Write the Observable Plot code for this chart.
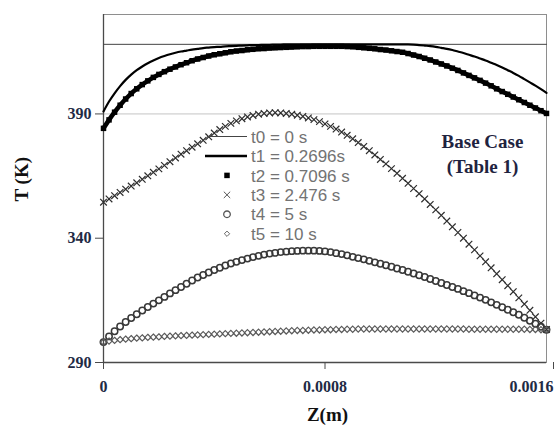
<!DOCTYPE html>
<html>
<head>
<meta charset="utf-8">
<script src="https://cdn.jsdelivr.net/npm/d3@7"></script>
<script src="https://cdn.jsdelivr.net/npm/@observablehq/plot@0.6"></script>
<style>
  html, body { margin: 0; padding: 0; background: #fff; }
  svg text.serif-label { font-family: "Liberation Serif", "Tinos", "DejaVu Serif", "Noto Serif", serif; }
</style>
</head>
<body>
<div id="chart"></div>
<script>
// Axial position of each grid node, in micrometres
const zMicrons = [
  0, 20, 40, 60, 80, 100, 120, 140, 160, 180, 200, 220, 240, 260, 280, 300, 320, 340, 360, 380,
  400, 420, 440, 460, 480, 500, 520, 540, 560, 580, 600, 620, 640, 660, 680, 700, 720, 740, 760, 780,
  800, 820, 840, 860, 880, 900, 920, 940, 960, 980, 1000, 1020, 1040, 1060, 1080, 1100, 1120, 1140, 1160, 1180,
  1200, 1220, 1240, 1260, 1280, 1300, 1320, 1340, 1360, 1380, 1400, 1420, 1440, 1460, 1480, 1500, 1520, 1540, 1560, 1580,
  1600
];

// Initial profile (t0 = 0 s), uniform
const zInitial = [0, 1600];
const tempT0 = [418, 418];

// Temperature profiles (K) at each node
const tempT1 = [
  391.0, 395.0, 398.3, 401.2, 403.7, 405.8, 407.6, 409.1, 410.4, 411.5, 412.5, 413.3, 414.0, 414.6, 415.1, 415.5, 415.9, 416.2, 416.5, 416.7,
  416.9, 417.0, 417.2, 417.3, 417.4, 417.5, 417.6, 417.7, 417.7, 417.8, 417.8, 417.9, 417.9, 418.0, 418.0, 418.0, 418.0, 418.0, 418.0, 418.0,
  418.0, 418.0, 418.0, 418.0, 418.0, 418.0, 418.0, 418.0, 418.0, 418.0, 418.0, 418.0, 418.0, 418.0, 418.0, 418.0, 417.9, 417.7, 417.5, 417.3,
  417.0, 416.6, 416.2, 415.7, 415.1, 414.5, 413.8, 413.1, 412.3, 411.5, 410.6, 409.7, 408.7, 407.6, 406.5, 405.3, 404.0, 402.7, 401.4, 400.0,
  398.5
];
const tempT2 = [
  384.2, 387.6, 390.7, 393.5, 396.0, 398.2, 400.1, 401.8, 403.3, 404.7, 405.9, 407.0, 408.0, 408.9, 409.8, 410.6, 411.4, 412.1, 412.7, 413.3,
  413.8, 414.2, 414.6, 415.0, 415.3, 415.5, 415.8, 416.0, 416.2, 416.3, 416.5, 416.6, 416.7, 416.8, 416.9, 417.0, 417.1, 417.1, 417.2, 417.2,
  417.2, 417.2, 417.2, 417.2, 417.1, 417.0, 416.8, 416.6, 416.4, 416.2, 415.9, 415.7, 415.4, 415.1, 414.8, 414.3, 413.7, 413.1, 412.4, 411.7,
  410.9, 410.1, 409.3, 408.4, 407.5, 406.5, 405.5, 404.5, 403.5, 402.4, 401.3, 400.1, 399.0, 397.9, 396.8, 395.7, 394.6, 393.5, 392.4, 391.3,
  390.2
];
const tempT3 = [
  354.5, 355.8, 357.1, 358.4, 359.7, 361.0, 362.3, 363.7, 365.1, 366.5, 367.9, 369.3, 370.8, 372.3, 373.8, 375.2, 376.6, 378.0, 379.4, 380.8,
  382.3, 383.7, 385.0, 386.2, 387.2, 388.1, 388.8, 389.4, 389.9, 390.2, 390.4, 390.5, 390.4, 390.2, 389.9, 389.5, 389.0, 388.4, 387.7, 386.9,
  386.0, 385.0, 383.9, 382.7, 381.4, 380.0, 378.5, 376.9, 375.2, 373.5, 371.7, 369.9, 368.0, 366.1, 364.1, 362.1, 360.0, 357.9, 355.8, 353.6,
  351.4, 349.2, 346.9, 344.6, 342.3, 340.0, 337.6, 335.3, 332.9, 330.5, 328.1, 325.7, 323.3, 320.9, 318.5, 316.0, 313.5, 311.0, 308.4, 305.8,
  303.3
];
const tempT4 = [
  298.2, 300.5, 302.6, 304.5, 306.3, 307.9, 309.4, 310.9, 312.3, 313.7, 315.0, 316.4, 317.8, 319.1, 320.4, 321.7, 323.0, 324.2, 325.2, 326.2,
  327.2, 328.1, 329.0, 329.8, 330.5, 331.2, 331.8, 332.4, 332.9, 333.4, 333.8, 334.1, 334.4, 334.6, 334.8, 334.9, 335.0, 335.0, 335.0, 334.9,
  334.7, 334.4, 334.0, 333.6, 333.1, 332.5, 332.0, 331.5, 330.9, 330.3, 329.7, 329.1, 328.5, 327.8, 327.2, 326.5, 325.8, 325.1, 324.4, 323.6,
  322.8, 322.0, 321.2, 320.4, 319.6, 318.7, 317.9, 317.0, 316.1, 315.2, 314.2, 313.2, 312.2, 311.2, 310.2, 309.2, 308.0, 306.8, 305.6, 304.4,
  303.2
];
const tempT5 = [
  298.2, 298.6, 298.9, 299.2, 299.4, 299.6, 299.8, 299.9, 300.1, 300.2, 300.3, 300.5, 300.6, 300.7, 300.8, 300.9, 301.0, 301.1, 301.2, 301.3,
  301.4, 301.5, 301.6, 301.7, 301.8, 301.9, 302.0, 302.1, 302.2, 302.3, 302.4, 302.5, 302.6, 302.7, 302.8, 302.9, 302.9, 303.0, 303.1, 303.1,
  303.2, 303.2, 303.3, 303.3, 303.4, 303.4, 303.5, 303.5, 303.5, 303.5, 303.5, 303.5, 303.5, 303.5, 303.5, 303.5, 303.5, 303.5, 303.5, 303.5,
  303.5, 303.5, 303.5, 303.5, 303.5, 303.5, 303.4, 303.4, 303.4, 303.4, 303.4, 303.4, 303.4, 303.4, 303.4, 303.4, 303.4, 303.3, 303.3, 303.2,
  303.2
];

// Legend entries, in drawing order
const seriesLabels = ["t0 = 0 s", "t1 = 0.2696s", "t2 = 0.7096 s", "t3 = 2.476 s", "t4 = 5 s", "t5 = 10 s"];

// Axis ticks
const xTicks = [0, 0.0008, 0.0016];
const yTicks = [290, 340, 390];
const gridY = [390];

const toRows = (zs, ts) => zs.map((u, i) => ({z: u * 1e-6, T: ts[i]}));
const rows0 = toRows(zInitial, tempT0);
const rows1 = toRows(zMicrons, tempT1);
const rows2 = toRows(zMicrons, tempT2);
const rows3 = toRows(zMicrons, tempT3);
const rows4 = toRows(zMicrons, tempT4);
const rows5 = toRows(zMicrons, tempT5);

const axisInk = "#222a44";
const fmt = d => d === 0 ? "0" : d.toFixed(4);
const serifText = {fontWeight: "bold"};

const chart = Plot.plot({
  width: 555,
  height: 427,
  marginLeft: 103,
  marginRight: 9,
  marginTop: 14,
  marginBottom: 65,
  x: {domain: [0, 0.0016]},
  y: {domain: [290, 430]},
  style: "font-weight: bold; font-size: 16px; background: #fff; overflow: visible;",
  marks: [
    Plot.ruleY(gridY, {stroke: "#c4c4c4", strokeWidth: 1}),
    Plot.frame({stroke: "#8e8e8e", strokeWidth: 1}),
    Plot.ruleX([0], {stroke: "#4a4a4a", strokeWidth: 1.3}),
    Plot.ruleY([290], {stroke: "#4a4a4a", strokeWidth: 1.3}),
    Plot.axisY(yTicks, {...serifText, fontSize: 16, tickSize: 8, tickPadding: 4, stroke: "#4a4a4a", fill: axisInk, label: null, tickFormat: d => String(d)}),
    Plot.axisX(xTicks.slice(0, 2), {...serifText, fontSize: 16, tickSize: 7, tickPadding: 11, stroke: "#4a4a4a", fill: axisInk, label: null, tickFormat: fmt}),
    Plot.axisX(xTicks.slice(2), {...serifText, fontSize: 16, tickSize: 7, tickPadding: 11, stroke: "#4a4a4a", fill: axisInk, label: null, tickFormat: fmt, textAnchor: "end", dx: 7}),
    Plot.text(["T (K)"], {...serifText, frameAnchor: "left", dx: -82, dy: 13, rotate: -90, fontSize: 19, fill: "#111"}),
    Plot.text(["Z(m)"], {...serifText, frameAnchor: "bottom", dx: 2.5, dy: 58, lineAnchor: "bottom", fontSize: 19, fill: "#111"}),
    Plot.text(["Base Case\n(Table 1)"], {...serifText, frameAnchor: "top-right", dx: -64, dy: 115.5, textAnchor: "middle", lineAnchor: "top", fontSize: 19, lineHeight: 1.32, fill: "#1f2340"}),

    // profiles
    Plot.line(rows0, {x: "z", y: "T", stroke: "#444", strokeWidth: 1}),
    Plot.line(rows2, {x: "z", y: "T", stroke: "#000", strokeWidth: 4.5, curve: "monotone-x"}),
    Plot.dot(rows2, {x: "z", y: "T", symbol: "square", r: 3.1, fill: "#000", stroke: "none"}),
    Plot.line(rows1, {x: "z", y: "T", stroke: "#000", strokeWidth: 2.2, curve: "monotone-x"}),
    Plot.dot(rows3, {x: "z", y: "T", symbol: "times", r: 3.1, stroke: "#2e2e2e", strokeWidth: 1.2}),
    Plot.dot(rows4, {x: "z", y: "T", symbol: "circle", r: 3.2, stroke: "#383838", strokeWidth: 1.5, fill: "none"}),
    Plot.dot(rows5, {x: "z", y: "T", symbol: "diamond2", r: 2.8, stroke: "#5a5a5a", strokeWidth: 1.2, fill: "none"})
  ]
});

// every text drawn so far (ticks, axis titles, annotation) is set in a bold serif
d3.select(chart).selectAll("text").classed("serif-label", true);

document.getElementById("chart").appendChild(chart);

// Legend, laid out inside the plotting area
const svg = d3.select(chart);
const legend = svg.append("g").attr("class", "legend").attr("text-anchor", "start");
const lx0 = 207, lx1 = 247, sx = 227, tx = 251, ly0 = 136.5, lstep = 19.45;
const swatches = [
  g => g.append("line").attr("x1", lx0).attr("x2", lx1).attr("stroke", "#444").attr("stroke-width", 1),
  g => g.append("line").attr("x1", lx0 - 2).attr("x2", lx1).attr("stroke", "#000").attr("stroke-width", 2.6),
  g => g.append("path").attr("transform", `translate(${sx},0)`).attr("d", d3.symbol(d3.symbolSquare, Math.PI * 3.1 * 3.1)()).attr("fill", "#000"),
  g => g.append("path").attr("transform", `translate(${sx},0)`).attr("d", d3.symbol(d3.symbolTimes, Math.PI * 3 * 3)()).attr("fill", "none").attr("stroke", "#555").attr("stroke-width", 1),
  g => g.append("path").attr("transform", `translate(${sx},0)`).attr("d", d3.symbol(d3.symbolCircle, Math.PI * 3.3 * 3.3)()).attr("fill", "none").attr("stroke", "#555").attr("stroke-width", 1.3),
  g => g.append("path").attr("transform", `translate(${sx},0)`).attr("d", d3.symbol(d3.symbolDiamond2, Math.PI * 2.4 * 2.4)()).attr("fill", "none").attr("stroke", "#666").attr("stroke-width", 1)
];
seriesLabels.forEach((label, i) => {
  const g = legend.append("g").attr("transform", `translate(0,${ly0 + i * lstep})`);
  swatches[i](g);
  g.append("text")
    .attr("x", tx)
    .attr("dy", "0.36em")
    .attr("text-anchor", "start")
    .attr("font-family", "Liberation Sans, Arial, sans-serif")
    .attr("font-weight", "normal")
    .attr("font-size", 17)
    .attr("fill", "#737373")
    .text(label);
});
</script>
</body>
</html>
